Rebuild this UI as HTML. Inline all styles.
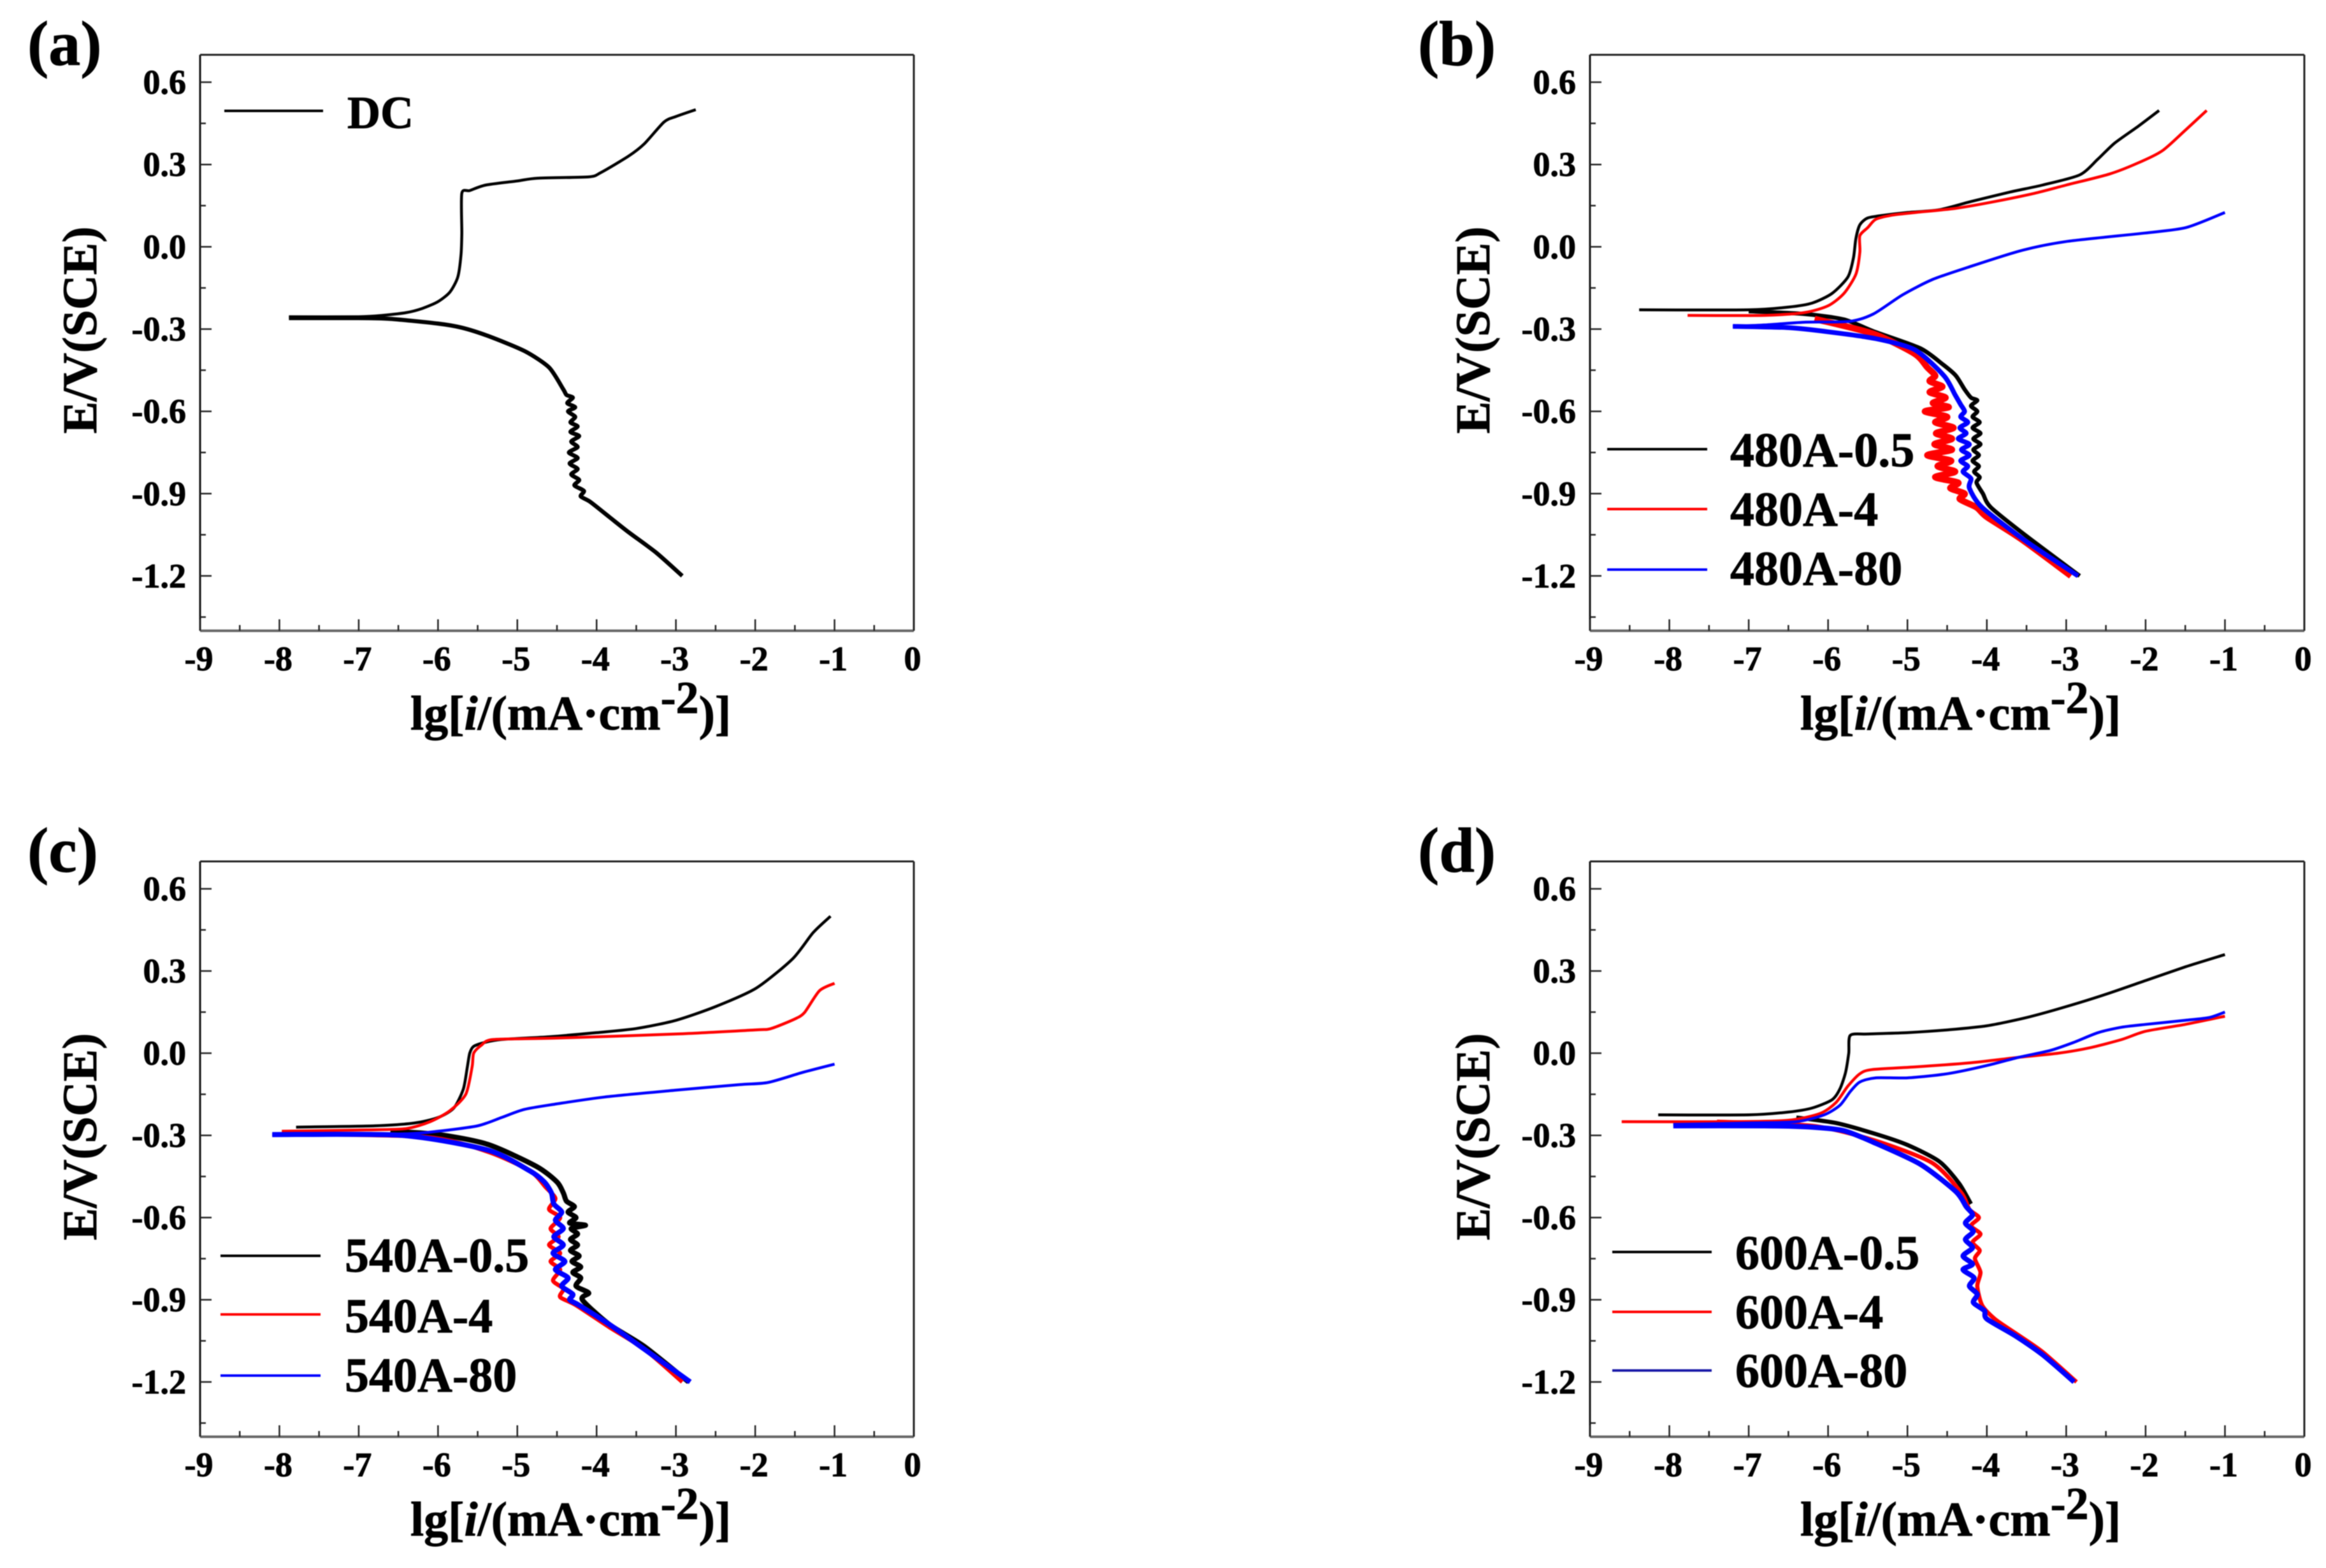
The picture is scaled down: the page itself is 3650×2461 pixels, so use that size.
<!DOCTYPE html>
<html lang="en">
<head>
<meta charset="utf-8">
<title>Polarization curves</title>
<style>
html,body{margin:0;padding:0;background:#fff;}
#figure{display:block;width:3650px;height:2461px;background:#fff;filter:blur(0.9px);font-family:"Liberation Serif",serif;font-weight:bold;fill:#000;}
#figure text{stroke:#000;stroke-width:0.9px;}
</style>
</head>
<body>
<svg id="figure" xmlns="http://www.w3.org/2000/svg" width="3650" height="2461" viewBox="0 0 3650 2461"></svg>
<script>
const xTicks = [-9,-8,-7,-6,-5,-4,-3,-2,-1,0];
const xMinorTicks = [-8.5,-7.5,-6.5,-5.5,-4.5,-3.5,-2.5,-1.5,-0.5];
const yTicks = [0.6,0.3,0.0,-0.3,-0.6,-0.9,-1.2];
const yTickLabels = ["0.6","0.3","0.0","-0.3","-0.6","-0.9","-1.2"];
const yMinorTicks = [0.45,0.15,-0.15,-0.45,-0.75,-1.05,-1.35];

const dcAnodic = [[-7.88,-.255],[-7,-.255],[-6.7,-.25],[-6.4,-.24],[-6.2,-.225],[-6,-.2],[-5.85,-.165],[-5.75,-.11],[-5.71,-.03],[-5.7,.05],[-5.7,.195],[-5.6,.205],[-5.4,.225],[-5,.24],[-4.75,.25],[-4.1,.255],[-3.95,.27],[-3.6,.33],[-3.4,.375],[-3.15,.455],[-3,.475],[-2.75,.5]];
const dcCathodic = [[-7.88,-.26],[-7,-.26],[-6.6,-.263],[-6,-.28],[-5.7,-.295],[-5.37,-.325],[-4.91,-.38],[-4.6,-.44],[-4.42,-.52],[-4.38,-.54],[-4.3,-.55],[-4.37,-.57],[-4.27,-.585],[-4.36,-.6],[-4.27,-.62],[-4.33,-.64],[-4.24,-.655],[-4.33,-.675],[-4.22,-.69],[-4.32,-.71],[-4.24,-.73],[-4.35,-.75],[-4.24,-.77],[-4.34,-.79],[-4.24,-.81],[-4.32,-.83],[-4.22,-.85],[-4.28,-.87],[-4.16,-.89],[-4.2,-.91],[-4.08,-.93],[-3.84,-.985],[-3.6,-1.04],[-3.25,-1.115],[-2.92,-1.2]];

const b05Anodic = [[-8.38,-.23],[-7,-.23],[-6.5,-.22],[-6.2,-.205],[-5.95,-.17],[-5.75,-.11],[-5.68,-.04],[-5.65,.03],[-5.6,.08],[-5.5,.105],[-5.3,.115],[-5,.125],[-4.6,.135],[-4.2,.165],[-3.7,.2],[-3.3,.225],[-2.83,.262],[-2.6,.32],[-2.39,.378],[-2.09,.44],[-1.83,.497]];
const b05Cathodic = [[-7,-.235],[-6.3,-.245],[-5.8,-.265],[-5.43,-.308],[-4.84,-.37],[-4.55,-.43],[-4.39,-.47],[-4.28,-.52],[-4.2,-.55],[-4.12,-.56],[-4.2,-.58],[-4.12,-.6],[-4.18,-.62],[-4.09,-.64],[-4.18,-.66],[-4.08,-.68],[-4.17,-.7],[-4.08,-.72],[-4.17,-.74],[-4.1,-.76],[-4.18,-.78],[-4.1,-.8],[-4.16,-.82],[-4.09,-.84],[-4.13,-.86],[-4.05,-.9],[-3.95,-.95],[-3.5,-1.055],[-2.83,-1.2]];
const b4Anodic = [[-7.77,-.25],[-6.8,-.25],[-6.3,-.24],[-6,-.215],[-5.8,-.17],[-5.65,-.1],[-5.6,-.02],[-5.6,.04],[-5.5,.07],[-5.4,.1],[-5.2,.115],[-4.9,.125],[-4.4,.14],[-3.9,.165],[-3.4,.195],[-3,.225],[-2.46,.265],[-2.1,.305],[-1.79,.35],[-1.5,.425],[-1.23,.497]];
const b4Cathodic = [[-6.17,-.263],[-5.43,-.317],[-4.91,-.39],[-4.75,-.44],[-4.65,-.47],[-4.72,-.49],[-4.56,-.51],[-4.72,-.53],[-4.52,-.55],[-4.68,-.57],[-4.48,-.585],[-4.78,-.6],[-4.5,-.62],[-4.65,-.64],[-4.42,-.66],[-4.64,-.68],[-4.44,-.7],[-4.66,-.72],[-4.44,-.74],[-4.75,-.76],[-4.45,-.78],[-4.62,-.8],[-4.4,-.82],[-4.65,-.84],[-4.36,-.86],[-4.46,-.88],[-4.28,-.9],[-4.34,-.92],[-4.13,-.95],[-4.0,-.985],[-3.57,-1.065],[-2.94,-1.2]];
const b80Anodic = [[-7.2,-.29],[-6.8,-.285],[-6.3,-.275],[-5.73,-.272],[-5.43,-.245],[-5.06,-.175],[-4.69,-.12],[-4.24,-.075],[-3.57,-.014],[-2.98,.02],[-2.01,.05],[-1.49,.07],[-1,.125]];
const b80Cathodic = [[-7.2,-.29],[-6.5,-.295],[-6,-.31],[-5.4,-.335],[-4.91,-.375],[-4.54,-.47],[-4.4,-.54],[-4.33,-.575],[-4.28,-.6],[-4.33,-.62],[-4.24,-.64],[-4.34,-.66],[-4.26,-.68],[-4.36,-.7],[-4.22,-.72],[-4.32,-.74],[-4.22,-.76],[-4.33,-.78],[-4.24,-.8],[-4.3,-.82],[-4.2,-.845],[-4.22,-.88],[-4.06,-.95],[-3.5,-1.075],[-2.85,-1.2]];

const c05Anodic = [[-7.79,-.27],[-6.8,-.265],[-6.3,-.255],[-6,-.235],[-5.8,-.2],[-5.68,-.13],[-5.63,-.05],[-5.6,0],[-5.55,.025],[-5.4,.04],[-5.2,.05],[-4.6,.06],[-4,.075],[-3.5,.09],[-3,.12],[-2.5,.17],[-1.99,.237],[-1.53,.344],[-1.27,.44],[-1.05,.5]];
const c05Cathodic = [[-6.6,-.285],[-5.99,-.297],[-5.37,-.333],[-4.76,-.413],[-4.5,-.47],[-4.42,-.51],[-4.38,-.54],[-4.28,-.56],[-4.36,-.58],[-4.26,-.6],[-4.34,-.62],[-4.14,-.628],[-4.32,-.64],[-4.24,-.66],[-4.33,-.68],[-4.24,-.7],[-4.33,-.72],[-4.22,-.74],[-4.31,-.76],[-4.2,-.78],[-4.3,-.8],[-4.2,-.82],[-4.26,-.85],[-4.1,-.875],[-4.18,-.9],[-3.84,-.99],[-3.4,-1.07],[-2.84,-1.2]];
const c4Anodic = [[-7.97,-.285],[-6.9,-.28],[-6.4,-.275],[-6.1,-.25],[-5.85,-.21],[-5.65,-.15],[-5.57,-.05],[-5.55,0],[-5.45,.03],[-5.3,.05],[-4.5,.055],[-3,.07],[-2,.085],[-1.8,.09],[-1.5,.125],[-1.38,.148],[-1.19,.228],[-1,.255]];
const c4Cathodic = [[-7.97,-.295],[-6.14,-.306],[-5.37,-.36],[-4.84,-.43],[-4.64,-.49],[-4.52,-.53],[-4.6,-.57],[-4.46,-.6],[-4.58,-.64],[-4.48,-.67],[-4.6,-.7],[-4.46,-.73],[-4.58,-.76],[-4.46,-.79],[-4.55,-.83],[-4.42,-.86],[-4.46,-.89],[-4.26,-.92],[-3.84,-1],[-3.4,-1.08],[-2.92,-1.2]];
const c80Anodic = [[-8.09,-.297],[-6.5,-.295],[-6,-.285],[-5.5,-.265],[-5.2,-.235],[-4.91,-.205],[-4.5,-.185],[-3.9,-.16],[-3,-.135],[-2.2,-.115],[-1.84,-.107],[-1.4,-.07],[-1,-.04]];
const c80Cathodic = [[-8.09,-.297],[-6.45,-.3],[-5.37,-.354],[-4.84,-.43],[-4.66,-.47],[-4.57,-.51],[-4.54,-.55],[-4.44,-.58],[-4.52,-.61],[-4.42,-.64],[-4.54,-.67],[-4.42,-.7],[-4.55,-.73],[-4.4,-.76],[-4.52,-.79],[-4.36,-.82],[-4.44,-.85],[-4.3,-.88],[-4.34,-.9],[-4.22,-.92],[-3.84,-.99],[-3.4,-1.08],[-2.82,-1.2]];

const d05Anodic = [[-8.14,-.225],[-7,-.225],[-6.5,-.215],[-6.2,-.2],[-5.95,-.17],[-5.85,-.13],[-5.78,-.07],[-5.74,0],[-5.72,.065],[-5.5,.07],[-5,.075],[-4.5,.085],[-4,.1],[-3.5,.13],[-3,.17],[-2.5,.215],[-2,.265],[-1.5,.315],[-1,.36]];
const d05Cathodic = [[-6.4,-.235],[-5.9,-.255],[-5.4,-.295],[-5,-.335],[-4.6,-.395],[-4.35,-.475],[-4.2,-.55]];
const d4Anodic = [[-8.6,-.25],[-7.2,-.25],[-6.5,-.245],[-6.1,-.22],[-5.9,-.18],[-5.75,-.12],[-5.6,-.075],[-5.45,-.06],[-4.9,-.05],[-4.2,-.035],[-3.6,-.015],[-3.1,0],[-2.7,.02],[-2.3,.05],[-2,.08],[-1.5,.105],[-1,.135]];
const d4Cathodic = [[-7.4,-.25],[-6.2,-.265],[-5.43,-.317],[-4.69,-.4],[-4.32,-.51],[-4.22,-.57],[-4.1,-.6],[-4.2,-.63],[-4.08,-.66],[-4.18,-.69],[-4.09,-.72],[-4.15,-.75],[-4.08,-.8],[-4.12,-.85],[-4.06,-.92],[-3.9,-.97],[-3.65,-1.02],[-3.3,-1.09],[-2.87,-1.2]];
const d80Anodic = [[-7.95,-.26],[-7,-.255],[-6.4,-.25],[-6.05,-.225],[-5.85,-.19],[-5.72,-.14],[-5.6,-.105],[-5.4,-.09],[-5,-.09],[-4.5,-.075],[-4,-.045],[-3.6,-.015],[-3.2,.01],[-2.9,.04],[-2.6,.075],[-2.3,.095],[-2,.105],[-1.5,.12],[-1.2,.13],[-1,.15]];
const d80Cathodic = [[-7.95,-.265],[-6.8,-.265],[-6.2,-.27],[-5.8,-.283],[-5.43,-.325],[-4.84,-.405],[-4.39,-.505],[-4.26,-.56],[-4.18,-.59],[-4.27,-.62],[-4.17,-.65],[-4.27,-.68],[-4.18,-.71],[-4.3,-.74],[-4.18,-.77],[-4.3,-.79],[-4.16,-.82],[-4.22,-.85],[-4.12,-.88],[-4.17,-.91],[-4.03,-.94],[-4.0,-.97],[-3.65,-1.03],[-3.3,-1.1],[-2.9,-1.2]];

const aNames = ["DC"];
const bNames = ["480A-0.5","480A-4","480A-80"];
const cNames = ["540A-0.5","540A-4","540A-80"];
const dNames = ["600A-0.5","600A-4","600A-80"];

const svgNS = "http://www.w3.org/2000/svg";
const root = document.getElementById("figure");

function createSvg(tag, parent) {
  const el = document.createElementNS(svgNS, tag);
  parent.appendChild(el);
  return el;
}
function setLine(el, x1, y1, x2, y2, stroke, width) {
  el.setAttribute("x1", x1);
  el.setAttribute("y1", y1);
  el.setAttribute("x2", x2);
  el.setAttribute("y2", y2);
  el.setAttribute("stroke", stroke);
  el.setAttribute("stroke-width", width);
}
function setText(el, x, y, size, anchor, content) {
  el.setAttribute("x", x);
  el.setAttribute("y", y);
  el.setAttribute("font-size", size);
  el.setAttribute("text-anchor", anchor);
  el.textContent = content;
}
function smoothPath(pts) {
  let d = "M" + pts[0][0].toFixed(1) + " " + pts[0][1].toFixed(1);
  for (let i = 0; i < pts.length - 1; i++) {
    const p0 = pts[Math.max(i - 1, 0)];
    const p1 = pts[i];
    const p2 = pts[i + 1];
    const p3 = pts[Math.min(i + 2, pts.length - 1)];
    const k = 1 / 8;
    d += "C" + (p1[0] + (p2[0] - p0[0]) * k).toFixed(1) + " " + (p1[1] + (p2[1] - p0[1]) * k).toFixed(1) + " "
       + (p2[0] - (p3[0] - p1[0]) * k).toFixed(1) + " " + (p2[1] - (p3[1] - p1[1]) * k).toFixed(1) + " "
       + p2[0].toFixed(1) + " " + p2[1].toFixed(1);
  }
  return d;
}

function drawPanel(p) {
  const g = createSvg("g", root);
  
  
  const width = p.right - p.left;
  const height = p.bottom - p.top;
  const xScale = v => p.left + (v + 9) / 9 * width;
  const yScale = v => p.top + (0.7 - v) / 2.1 * height;

  const panelLabel = createSvg("text", g);
  
  
  setText(panelLabel, p.labelX, p.labelY, 100, "start", "(" + p.id + ")");

  const leftAxis = createSvg("line", g);
  
  
  setLine(leftAxis, p.left, p.top, p.left, p.bottom, "#111", 3);
  const topAxis = createSvg("line", g);
  
  
  setLine(topAxis, p.left, p.top, p.right, p.top, "#222", 3);
  const rightAxis = createSvg("line", g);
  
  
  setLine(rightAxis, p.right, p.top, p.right, p.bottom, "#222", 3);
  const bottomAxis = createSvg("line", g);
  
  
  setLine(bottomAxis, p.left, p.bottom, p.right, p.bottom, "#666", 4);

  xTicks.forEach(v => {
    const tick = createSvg("line", g);
    
    
    setLine(tick, xScale(v), p.bottom, xScale(v), p.bottom - 18, "#222", 2.5);
    const label = createSvg("text", g);
    
    
    setText(label, xScale(v) - 2, p.bottom + 62, 54, "middle", String(v));
  });
  xMinorTicks.forEach(v => {
    const tick = createSvg("line", g);
    
    
    setLine(tick, xScale(v), p.bottom, xScale(v), p.bottom - 9, "#222", 2.5);
  });
  yTicks.forEach((v, i) => {
    const tick = createSvg("line", g);
    
    
    setLine(tick, p.left, yScale(v), p.left + 18, yScale(v), "#222", 2.5);
    const label = createSvg("text", g);
    
    
    setText(label, p.left - 22, yScale(v) + 18, 54, "end", yTickLabels[i]);
  });
  yMinorTicks.forEach(v => {
    const tick = createSvg("line", g);
    
    
    setLine(tick, p.left, yScale(v), p.left + 9, yScale(v), "#222", 2.5);
  });

  const yTitle = createSvg("text", g);
  
  
  setText(yTitle, 0, 0, 76, "middle", "E/V(SCE)");
  yTitle.setAttribute("transform", "translate(" + (p.left - p.yTitleGap) + "," + (p.top + 432) + ") rotate(-90)");

  const xTitle = createSvg("text", g);
  
  
  xTitle.setAttribute("x", p.left + 330);
  xTitle.setAttribute("y", p.bottom + 155);
  xTitle.setAttribute("font-size", 76);
  xTitle.innerHTML = 'lg[<tspan font-style="italic">i</tspan>/(mA·cm<tspan dy="-26" font-size="72">-2</tspan><tspan dy="26">)]</tspan>';

  p.series.forEach(s => {
    const anodicCurve = createSvg("path", g);
    
    
    anodicCurve.setAttribute("d", smoothPath(s.anodic.map(d => [xScale(d[0]), yScale(d[1])])));
    anodicCurve.setAttribute("fill", "none");
    anodicCurve.setAttribute("stroke", s.color);
    anodicCurve.setAttribute("stroke-width", 4.5);
    const cathodicCurve = createSvg("path", g);
    
    
    cathodicCurve.setAttribute("d", smoothPath(s.cathodic.map(d => [xScale(d[0]), yScale(d[1])])));
    cathodicCurve.setAttribute("fill", "none");
    cathodicCurve.setAttribute("stroke", s.color);
    cathodicCurve.setAttribute("stroke-width", s.cathodicWidth || 6.5);
  });

  p.series.forEach((s, i) => {
    const swatch = createSvg("line", g);
    
    
    setLine(swatch, p.legendX1, p.legendLines[i], p.legendX2, p.legendLines[i], s.legendColor || s.color, 4);
    const label = createSvg("text", g);
    
    
    setText(label, p.legendTextX, p.legendBase[i], p.legendSize, "start", s.name);
  });
}

drawPanel({id:"a",left:314,right:1434,top:86,bottom:990,labelX:43,labelY:102,yTitleGap:163,
  legendX1:352,legendX2:507,legendTextX:545,legendLines:[174],legendBase:[201],legendSize:72,
  series:[{name:aNames[0],color:"#000",anodic:dcAnodic,cathodic:dcCathodic}]});
drawPanel({id:"b",left:2495,right:3616,top:86,bottom:990,labelX:2225,labelY:102,yTitleGap:158,
  legendX1:2522,legendX2:2679,legendTextX:2715,legendLines:[705,799,894],legendBase:[732,825,918],legendSize:76,
  series:[{name:bNames[0],color:"#000",anodic:b05Anodic,cathodic:b05Cathodic},
          {name:bNames[1],color:"#f00",cathodicWidth:10,anodic:b4Anodic,cathodic:b4Cathodic},
          {name:bNames[2],color:"#00f",cathodicWidth:7.5,anodic:b80Anodic,cathodic:b80Cathodic}]});
drawPanel({id:"c",left:314,right:1434,top:1352,bottom:2255,labelX:43,labelY:1368,yTitleGap:163,
  legendX1:346,legendX2:503,legendTextX:541,legendLines:[1971,2063,2159],legendBase:[1996,2091,2184],legendSize:76,
  series:[{name:cNames[0],color:"#000",cathodicWidth:8,anodic:c05Anodic,cathodic:c05Cathodic},
          {name:cNames[1],color:"#f00",anodic:c4Anodic,cathodic:c4Cathodic},
          {name:cNames[2],color:"#00f",cathodicWidth:8,anodic:c80Anodic,cathodic:c80Cathodic}]});
drawPanel({id:"d",left:2495,right:3616,top:1352,bottom:2255,labelX:2225,labelY:1368,yTitleGap:158,
  legendX1:2530,legendX2:2686,legendTextX:2723,legendLines:[1965,2059,2151],legendBase:[1992,2085,2177],legendSize:76,
  series:[{name:dNames[0],color:"#000",anodic:d05Anodic,cathodic:d05Cathodic},
          {name:dNames[1],color:"#f00",anodic:d4Anodic,cathodic:d4Cathodic},
          {name:dNames[2],color:"#00f",legendColor:"#1a1aa8",cathodicWidth:8,anodic:d80Anodic,cathodic:d80Cathodic}]});
</script>
</body>
</html>
